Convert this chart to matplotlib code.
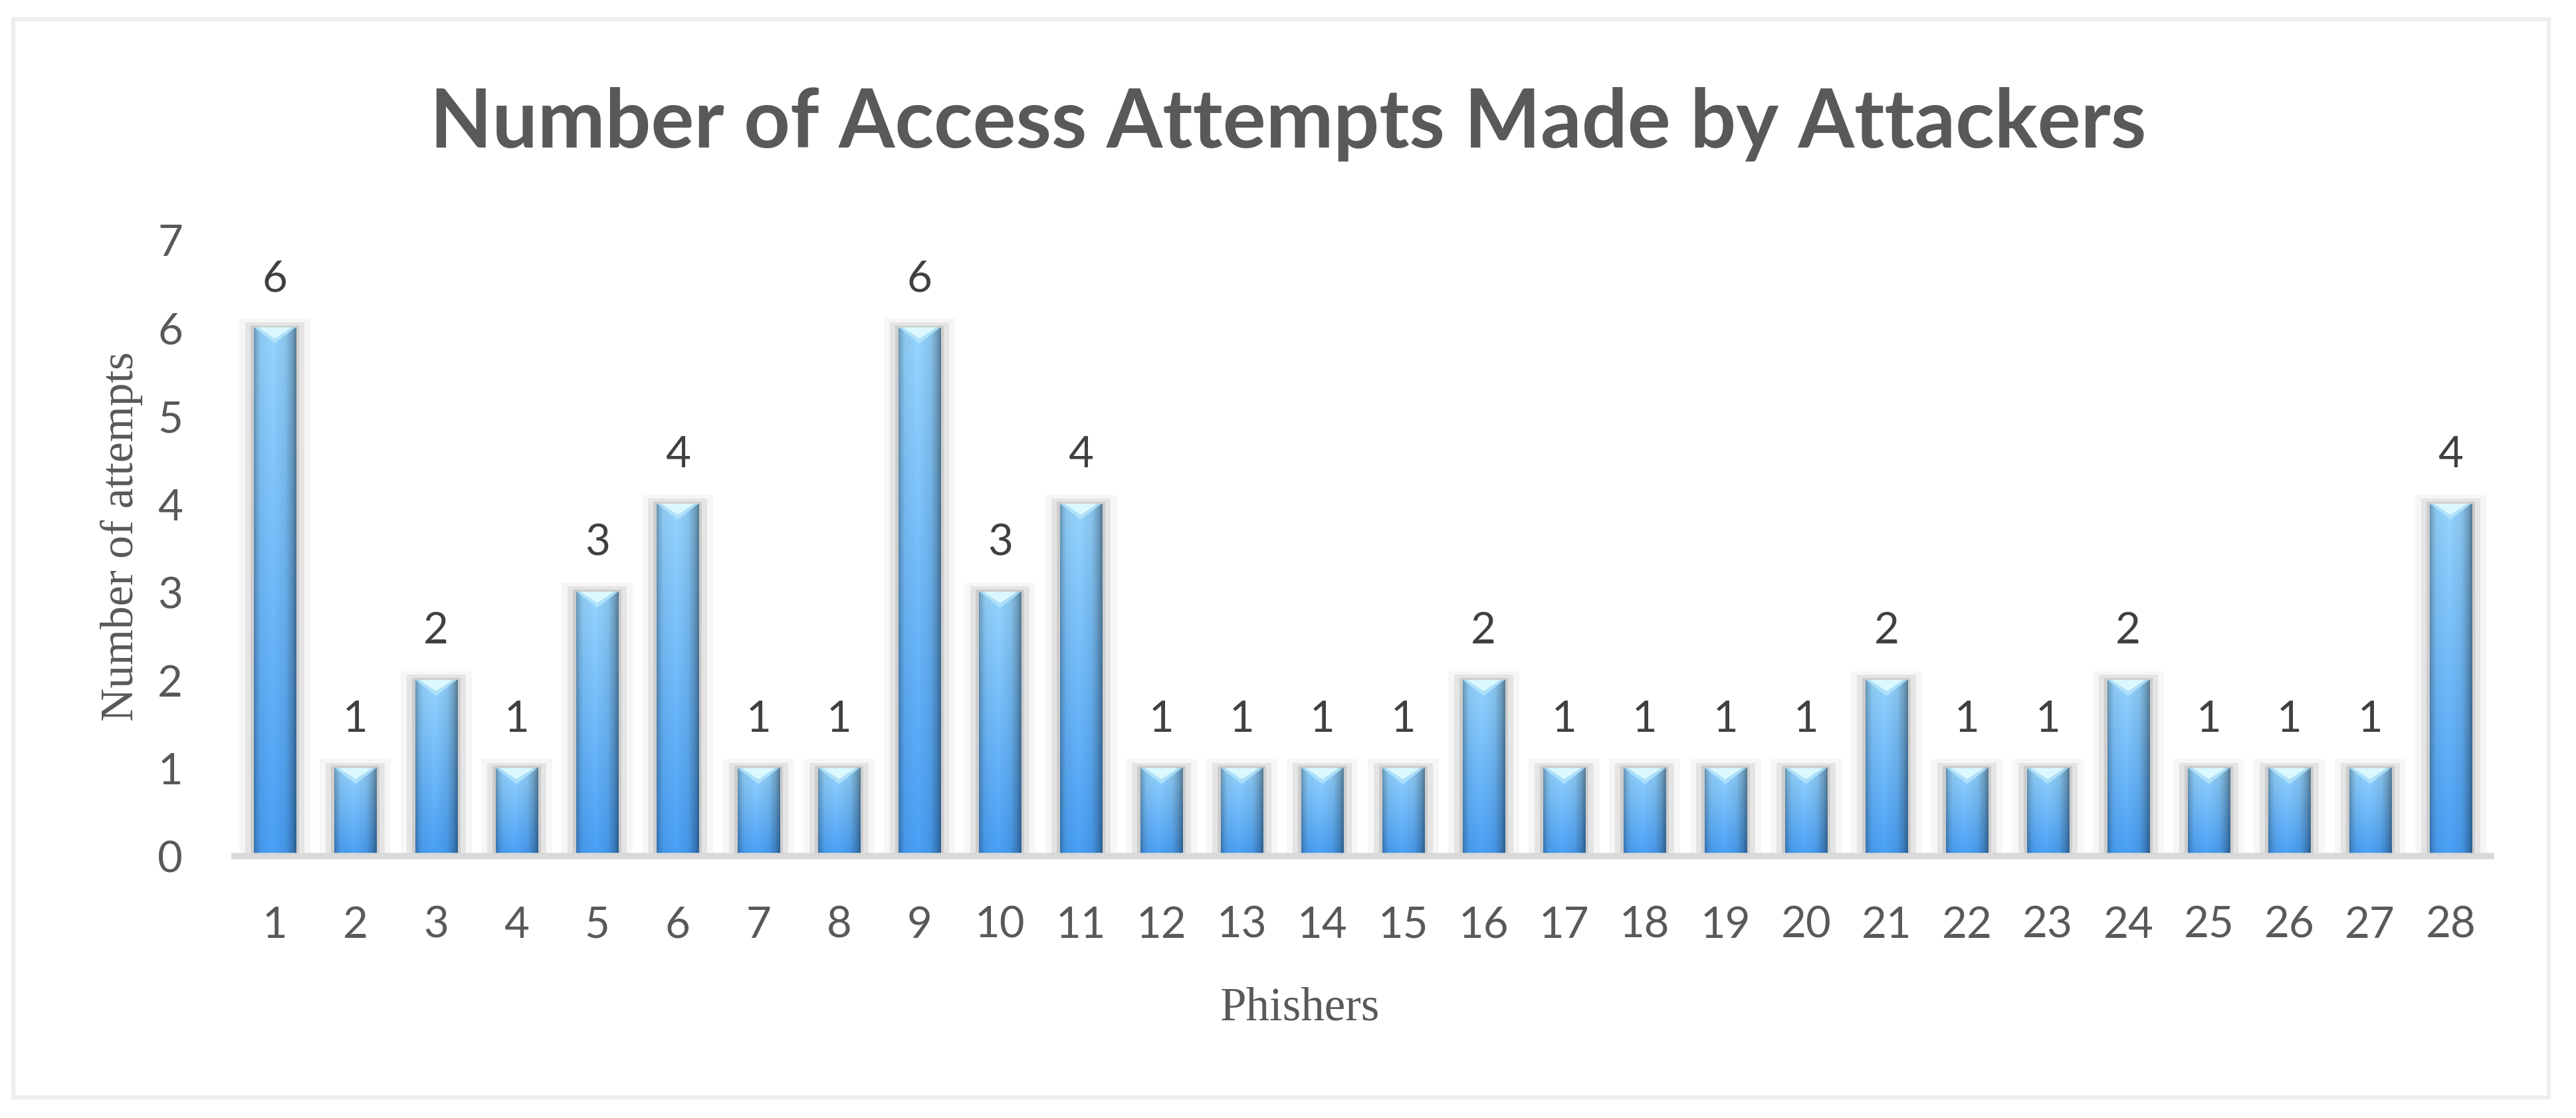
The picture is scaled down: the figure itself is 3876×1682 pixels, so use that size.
import numpy as np
import matplotlib
matplotlib.use("Agg")
import matplotlib.pyplot as plt
from matplotlib.patches import Rectangle, Polygon

phishers = list(range(1, 29))
attempts = [6, 1, 2, 1, 3, 4, 1, 1, 6, 3, 4, 1, 1, 1, 1, 2, 1, 1, 1, 1, 2, 1, 1, 2, 1, 1, 1, 4]
y_ticks = list(range(0, 8))

W, H = 3876, 1683
fig = plt.figure(figsize=(W / 100, H / 100), dpi=100)
fig.patch.set_facecolor("white")

# chart border
fig.patches.append(Rectangle((20 / W, 1 - 1652 / H), 3815 / W, 1622 / H,
                             transform=fig.transFigure, fill=False,
                             edgecolor="#eeeeee", linewidth=4.5))

ax = fig.add_axes([353 / W, 1 - 1289 / H, 3395 / W, 928 / H])
ax.set_xlim(0.5, 28.5)
ax.set_ylim(0, 7)

px_x = 1 / 121.25   # data units per pixel
px_y = 1 / 132.6
bw = 0.52

# soft grey glow behind bars
for grow, col in [(22, "#f6f6f6"), (13, "#e4e4e4"), (5, "#cdcdcd")]:
    ax.bar(phishers, [v + grow * 0.6 * px_y for v in attempts],
           width=bw + 2 * grow * px_x, color=col, zorder=1, linewidth=0)

bars = ax.bar(phishers, attempts, width=bw, color="#5aa7ee", zorder=2, linewidth=0)

# gradient fill for the bars
xs = np.linspace(0, 1, 80)
fx = np.interp(xs, [0, 0.06, 0.15, 0.45, 0.75, 0.9, 1.0],
               [0.72, 0.85, 0.97, 1.03, 0.95, 0.78, 0.60])
ys = np.linspace(0, 1, 80)[:, None, None]
top_col = np.array([0.57, 0.81, 0.97])
bot_col = np.array([0.28, 0.61, 0.94])
grad = (top_col * (1 - ys) + bot_col * ys) * fx[None, :, None]
grad = np.clip(grad, 0, 1)

d = 24 * px_y
for rect in bars:
    x0, w, h = rect.get_x(), rect.get_width(), rect.get_height()
    im = ax.imshow(grad, extent=[x0, x0 + w, 0, h], aspect="auto", origin="upper",
                   interpolation="bicubic", zorder=2)
    im.set_clip_path(rect)
    ax.add_patch(Polygon([(x0, h), (x0 + w, h), (x0 + w / 2, h - d)],
                         closed=True, facecolor="#b6e6fb", edgecolor="none",
                         alpha=0.8, zorder=3))
    ax.add_patch(Polygon([(x0 + 0.05, h), (x0 + w - 0.05, h), (x0 + w / 2, h - d * 0.7)],
                         closed=True, facecolor="#dcf8ff", edgecolor="none", zorder=3))

for x, v in zip(phishers, attempts):
    ax.annotate(str(v), (x, v), xytext=(0, 40), textcoords="offset points",
                ha="center", va="baseline", fontsize=47, family="Lato", color="#404040")

ax.set_xlim(0.5, 28.5)
ax.set_ylim(0, 7)
ax.set_xticks(phishers)
ax.set_xticklabels([str(p) for p in phishers])
ax.set_yticks(y_ticks)
ax.tick_params(axis="both", length=0, labelsize=47, labelcolor="#595959")
ax.tick_params(axis="y", pad=56)
ax.tick_params(axis="x", pad=53)
for lab in ax.get_xticklabels() + ax.get_yticklabels():
    lab.set_family("Lato")

for s in ["top", "right", "left"]:
    ax.spines[s].set_visible(False)
ax.spines["bottom"].set_color("#d9d9d9")
ax.spines["bottom"].set_linewidth(7)
ax.spines["bottom"].set_zorder(4)
ax.set_facecolor("none")

fig.text(1938 / W, 1 - 222 / H, "Number of Access Attempts Made by Attackers",
         ha="center", va="baseline", fontsize=87.5, fontweight="bold",
         family="Lato", color="#595959")
fig.text(1956 / W, 1 - 1535 / H, "Phishers", ha="center", va="baseline",
         fontsize=51, family="Liberation Serif", color="#595959")
fig.text(200 / W, 1 - 807 / H, "Number of attempts", rotation=90,
         rotation_mode="anchor", ha="center", va="baseline",
         fontsize=50, family="Liberation Serif", color="#595959")

fig.savefig("out.png", dpi=100)
